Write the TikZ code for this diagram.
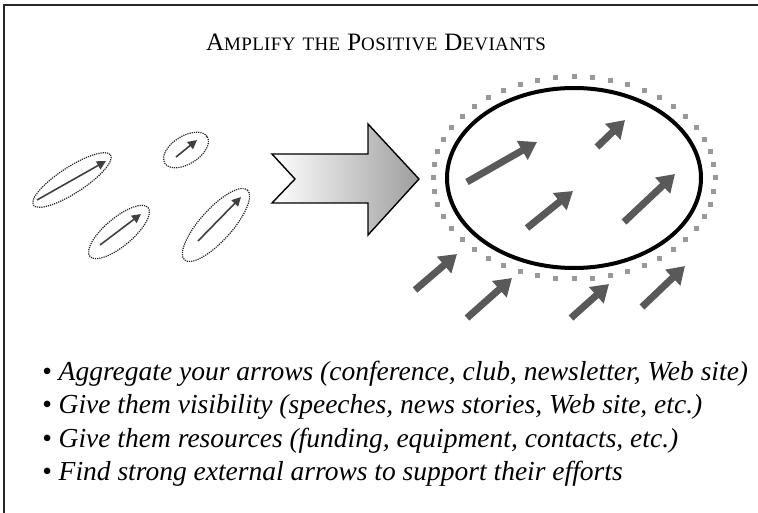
\documentclass[tikz,border=0pt]{standalone}
\usepackage{fontspec}
\setmainfont{Liberation Serif}
\usetikzlibrary{arrows.meta, calc}

\newcommand{\capword}[2]{{\fontsize{25}{28}\selectfont #1}{\fontsize{19}{28}\selectfont #2}}

\begin{document}
\begin{tikzpicture}[x=1pt, y=-1pt, >=Stealth,
  ovalline/.style={draw=black!85, line width=1.2pt, densely dotted},
  smallarrow/.style={draw=black!75, line width=1.6pt, -{Triangle[width=9pt,length=9pt]}},
  bigarrow/.style={draw=black!65, line width=7pt, -{Triangle[width=21pt,length=17pt]}},
  ringdot/.style={fill=black!40, minimum size=5pt, inner sep=0pt, rectangle},
  bullettext/.style={anchor=base west, inner sep=0pt, font=\fontsize{27.5}{30}\selectfont\itshape}]

  \useasboundingbox (0,0) rectangle (758,513);

  % Frame
  \draw[line width=2pt, black!85] (4,513) -- (4,5) -- (758,5);

  % Title
  \node (title) [anchor=base, inner sep=0pt, font=\addfontfeatures{LetterSpace=2}] at (376,51)
    {\capword{A}{MPLIFY}\hspace{7pt}\capword{}{THE}\hspace{7pt}\capword{P}{OSITIVE}\hspace{7pt}\capword{D}{EVIANTS}};

  % Scattered arrows
  \draw[ovalline, rotate around={33:(72,180)}] (72,180) ellipse (46 and 13);
  \draw[ovalline, rotate around={32:(186,150)}] (186,150) ellipse (25 and 14);
  \draw[ovalline, rotate around={40:(119,232)}] (119,232) ellipse (38 and 14);
  \draw[ovalline, rotate around={48:(216,225)}] (216,225) ellipse (47 and 16);
  \draw[smallarrow] (37,200) -- (106,161);
  \draw[smallarrow] (176,157) -- (197,140);
  \draw[smallarrow] (100,245) -- (141,214);
  \draw[smallarrow] (198,241) -- (241,197);

  % Big arrow
  \draw[line width=1.4pt, left color=white, right color=black!38, line join=miter]
    (272,154) -- (368,154) -- (368,124) -- (419,179) -- (368,235) -- (368,203)
    -- (272,203) -- (295,179) -- cycle;

  % Aggregated arrows
  \coordinate (hub) at (574,178);
  \foreach \a in {0,7.5,...,352.5}
    \node[ringdot] at ($(hub)+(\a:141 and 101)$) {};
  \draw[line width=4pt] (hub) ellipse (127 and 90);
  \draw[bigarrow] (467,182) -- (537,142);
  \draw[bigarrow] (597,147) -- (625,120);
  \draw[bigarrow] (527,228) -- (573,191);
  \draw[bigarrow] (624,222) -- (675,174);
  \draw[bigarrow] (415,290) -- (457,254);
  \draw[bigarrow] (467,318) -- (512,278);
  \draw[bigarrow] (571,318) -- (609,284);
  \draw[bigarrow] (642,307) -- (685,266);

  % Bullets
  \node (b1) [bullettext] at (42,380) {\textbullet\ Aggregate your arrows (conference, club, newsletter, Web site)};
  \node (b2) [bullettext] at (42,413.5) {\textbullet\ Give them visibility (speeches, news stories, Web site, etc.)};
  \node (b3) [bullettext] at (42,447) {\textbullet\ Give them resources (funding, equipment, contacts, etc.)};
  \node (b4) [bullettext] at (42,480.5) {\textbullet\ Find strong external arrows to support their efforts};

\end{tikzpicture}
\end{document}
